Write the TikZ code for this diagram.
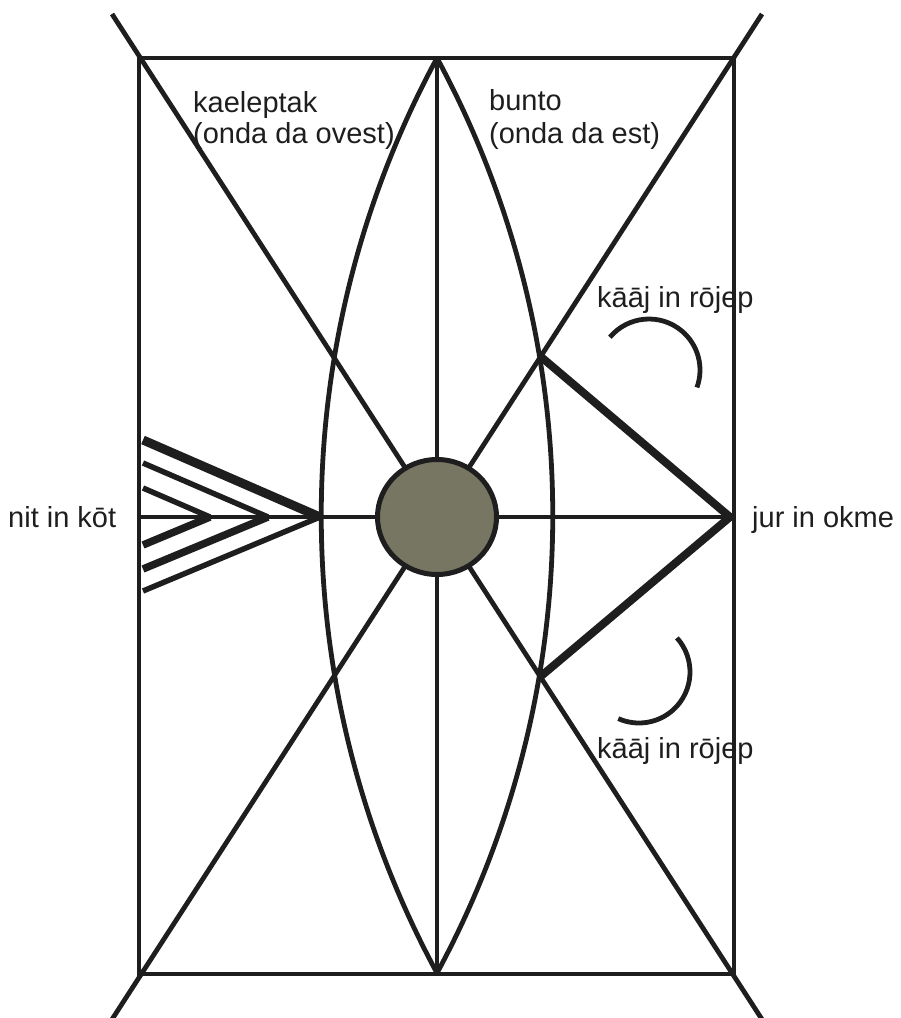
\documentclass[tikz,border=0pt]{standalone}
\usepackage{fontspec}
\setmainfont{Liberation Sans}
\usetikzlibrary{shapes.geometric}
\begin{document}
\begin{tikzpicture}[x=1pt,y=-1pt,
  ink/.style={draw=inkc,line width=4.8pt},
  thick line/.style={draw=inkc,line width=8pt},
  lbl/.style={anchor=base west,inner sep=0pt,text=inkc,font=\fontsize{29}{31}\selectfont},
  ]
\definecolor{inkc}{RGB}{30,30,30}
\definecolor{sunc}{RGB}{119,118,98}
\useasboundingbox (0,0) rectangle (901,1018);
% coordinates
\coordinate (TL) at (139,58);
\coordinate (TR) at (734,58);
\coordinate (BL) at (139,974);
\coordinate (BR) at (734,974);
\coordinate (TM) at (437,58);
\coordinate (BM) at (437,974);
\coordinate (C) at (437,517);
\coordinate (L) at (139,517);
\coordinate (R) at (734,517);
\coordinate (eTL) at (112,14);
\coordinate (eTR) at (762,14);
\coordinate (eBL) at (109,1024);
\coordinate (eBR) at (765,1024);
\coordinate (P1) at (540,356);
\coordinate (P2) at (540,677);
\coordinate (Tip) at (730,517);
% labels
\node[lbl] (kael) at (193,112) {kaeleptak};
\node[lbl] (kaelb) at (193,143) {(onda da ovest)};
\node[lbl] (bunto) at (489,110) {bunto};
\node[lbl] (buntob) at (489,143) {(onda da est)};
\node[lbl] (kaaj1) at (597,307) {kāāj in rōjep};
\node[lbl] (kaaj2) at (597,758) {kāāj in rōjep};
\node[lbl] (nit) at (8,527) {nit in kōt};
\node[lbl] (jur) at (752,527) {jur in okme};
% frame and axes
\draw[ink] (TL) rectangle (BR);
\draw[ink] (TM) -- (BM);
\draw[ink] (L) -- (R);
\draw[ink] (eTL) -- (C);
\draw[ink] (eTR) -- (C);
\draw[ink] (eBL) -- (C);
\draw[ink] (eBR) -- (C);
% lens
\draw[ink] (TM) arc[start angle=-151.6, end angle=-208.4, radius=962];
\draw[ink] (TM) arc[start angle=-28.4, end angle=28.4, radius=962];
% right wedge
\draw[thick line,line join=miter] (P1) -- (Tip) -- (P2);
% small arcs
\draw[ink] (649,370) ++(-140:51) arc[start angle=-140, end angle=20, radius=51];
\draw[ink] (639,672) ++(-42:51) arc[start angle=-42, end angle=114, radius=51];
% left chevrons
\coordinate (c1) at (320,517);
\coordinate (c2) at (268,517);
\coordinate (c3) at (210,517);
\draw[draw=inkc,line width=9pt] (143,440) -- (c1);
\draw[draw=inkc,line width=5.5pt] (143,591) -- (c1);
\draw[draw=inkc,line width=5.5pt] (143,463) -- (c2);
\draw[draw=inkc,line width=7.5pt] (143,569) -- (c2);
\draw[draw=inkc,line width=5.5pt] (143,488) -- (c3);
\draw[draw=inkc,line width=7.5pt] (143,545) -- (c3);
\draw[ink] (L) -- (C);
\draw[ink] (TL) -- (BL);
% sun
\node[draw=inkc,line width=5pt,fill=sunc,ellipse,minimum width=119pt,minimum height=115pt,inner sep=0pt] (sun) at (C) {};
\end{tikzpicture}
\end{document}
